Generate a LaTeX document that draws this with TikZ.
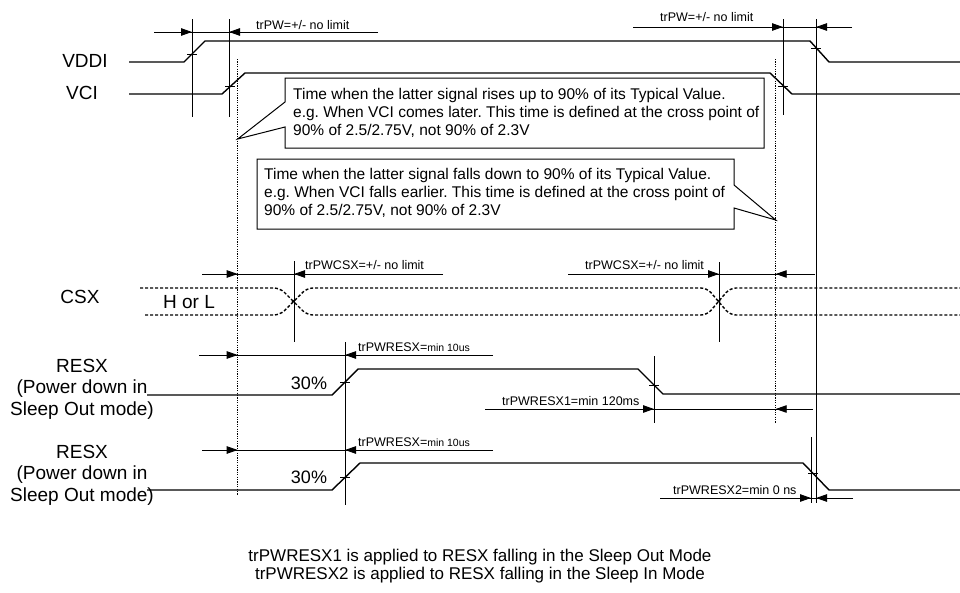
\documentclass[tikz,border=0pt]{standalone}
\usepackage{fontspec}
\setmainfont{Liberation Sans}
\usetikzlibrary{arrows.meta}

\newcommand{\tinyfnt}{\fontsize{12.5}{13}\selectfont}
\newcommand{\minifnt}{\fontsize{10.5}{11}\selectfont}
\frenchspacing

\begin{document}
\begin{tikzpicture}[x=1pt,y=-1pt,
    sig/.style={line width=1.4pt},
    csxline/.style={line width=1.4pt, dash pattern=on 3pt off 2pt, rounded corners=6pt},
    guide/.style={line width=0.9pt},
    dotguide/.style={line width=0.9pt, dash pattern=on 1.2pt off 1.2pt},
    dim/.style={line width=0.9pt, -{Triangle[length=11pt,width=7.5pt]}},
    note/.style={line width=1pt, fill=white},
    lbl/.style={font=\fontsize{19}{21.5}\selectfont, align=center, inner sep=0pt},
    notetxt/.style={font=\fontsize{15.5}{18}\selectfont, align=left, inner sep=0pt, anchor=west},
    tiny/.style={font=\tinyfnt, inner sep=0pt, anchor=west},
    tick/.style={line width=1pt}]
\useasboundingbox (0,0) rectangle (960,592);

% signal names
\node[lbl] (vddi) at (85,61) {VDDI};
\node[lbl] (vci) at (82,93) {VCI};
\node[lbl] (csx) at (80,297) {CSX};
\node[lbl] (resxa) at (82,389) {RESX\\(Power down in\\Sleep Out mode)};
\node[lbl] (resxb) at (82,475) {RESX\\(Power down in\\Sleep Out mode)};

% guide lines
\draw[guide] (192,19) -- (192,117);
\draw[guide] (229,19) -- (229,117);
\draw[guide] (783,19) -- (783,115);
\draw[guide] (816,19) -- (816,503);
\draw[guide] (294,261) -- (294,342);
\draw[guide] (719,262) -- (719,342);
\draw[guide] (345,342) -- (345,505);
\draw[guide] (654,356) -- (654,423);
\draw[guide] (811,437) -- (811,503);
\draw[dotguide] (237.7,59) -- (237.7,495);
\draw[dotguide] (775.7,59) -- (775.7,423);

% waveforms
\draw[sig] (129,62) -- (184,62) -- (205,41) -- (810,41) -- (829,62) -- (960,62);
\draw[sig] (129,94) -- (222,94) -- (245,73) -- (770,73) -- (792,94) -- (960,94);
\draw[csxline] (140,288) -- (280,288) -- (307,315) -- (707,315) -- (730,288) -- (960,288);
\draw[csxline] (145,315) -- (280,315) -- (307,288) -- (707,288) -- (730,315) -- (960,315);
\draw[sig] (147,395) -- (332,395) -- (358,369) -- (638,369) -- (663,394) -- (960,394);
\draw[sig] (147,490) -- (332,490) -- (360,463) -- (803,463) -- (829,490) -- (960,490);
\node[lbl] (hl) at (189,302) {H or L};
\node[lbl, font=\fontsize{18}{20}\selectfont] (pa) at (309,383) {30\%};
\node[lbl, font=\fontsize{18}{20}\selectfont] (pb) at (309,477) {30\%};

% cross ticks
\foreach \px/\py in {192/54, 230/86, 816/48, 783/86, 345/382, 654/385, 345/477, 813/473}
  \draw[tick] (\px-5,\py) -- (\px+5,\py);
\fill (293,301) circle (1.5pt);
\fill (719,301) circle (1.5pt);

% timing arrows
\draw[guide] (154,32) -- (378,32);
\draw[dim] (154,32) -- (192,32);
\draw[dim] (378,32) -- (229,32);
\node[tiny] (pwa) at (256,25) {trPW=+/- no limit};

\draw[guide] (633,27) -- (852,27);
\draw[dim] (633,27) -- (783,27);
\draw[dim] (852,27) -- (816,27);
\node[tiny] (pwb) at (660,17) {trPW=+/- no limit};

\draw[guide] (202,274) -- (443,274);
\draw[dim] (202,274) -- (237.7,274);
\draw[dim] (443,274) -- (294,274);
\node[tiny] (csxa) at (305,265) {trPWCSX=+/- no limit};

\draw[guide] (568,274) -- (815,274);
\draw[dim] (568,274) -- (719,274);
\draw[dim] (815,274) -- (775.7,274);
\node[tiny] (csxb) at (585,265) {trPWCSX=+/- no limit};

\draw[guide] (199,355) -- (493,355);
\draw[dim] (199,355) -- (237.7,355);
\draw[dim] (493,355) -- (345,355);
\node[tiny] (rsa) at (358,347) {trPWRESX={\minifnt min 10us}};

\draw[guide] (485,409) -- (813,409);
\draw[dim] (485,409) -- (654,409);
\draw[dim] (813,409) -- (775.7,409);
\node[tiny] (rsb) at (502,401) {trPWRESX1=min 120ms};

\draw[guide] (202,450) -- (493,450);
\draw[dim] (202,450) -- (237.7,450);
\draw[dim] (493,450) -- (345,450);
\node[tiny] (rsc) at (358,442) {trPWRESX={\minifnt min 10us}};

\draw[guide] (660,498) -- (853,498);
\draw[dim] (660,498) -- (811,498);
\draw[dim] (853,498) -- (816,498);
\node[tiny] (rsd) at (673,490) {trPWRESX2=min 0 ns};

% callouts
\draw[note] (285,78) -- (764,78) -- (764,148) -- (285,148) -- (285,127)
  -- (237.7,139) -- (285,102) -- cycle;
\node[notetxt] (risenote) at (293,113) {Time when the latter signal rises up to 90\% of its Typical Value.\\
  e.g. When VCI comes later. This time is defined at the cross point of\\
  90\% of 2.5/2.75V, not 90\% of 2.3V};
\draw[note] (257,159) -- (734,159) -- (734,185) -- (775.7,220) -- (734,208)
  -- (734,229) -- (257,229) -- cycle;
\node[notetxt] (fallnote) at (264,193) {Time when the latter signal falls down to 90\% of its Typical Value.\\
  e.g. When VCI falls earlier. This time is defined at the cross point of\\
  90\% of 2.5/2.75V, not 90\% of 2.3V};

% footnote
\node[font=\fontsize{17}{18.5}\selectfont, align=center, inner sep=0pt] (foot) at (480,566)
  {trPWRESX1 is applied to RESX falling in the Sleep Out Mode\\
   trPWRESX2 is applied to RESX falling in the Sleep In Mode};
\end{tikzpicture}
\end{document}
